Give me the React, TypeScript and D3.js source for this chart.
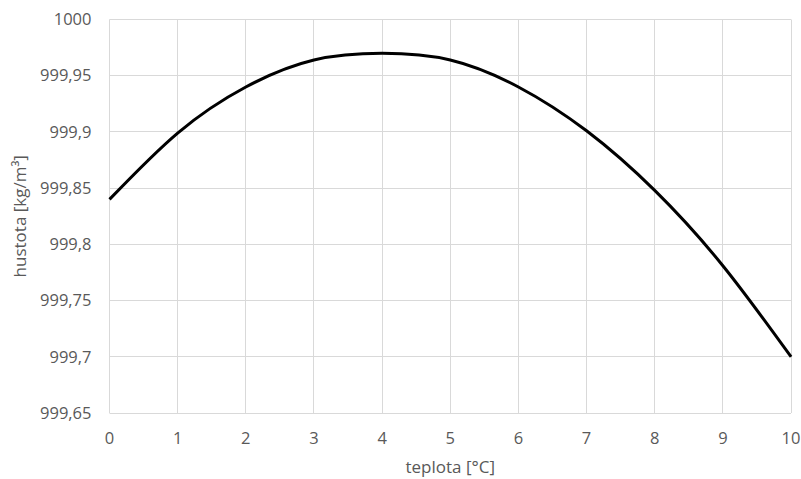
import * as d3 from 'd3';
import { useEffect, useRef } from 'react';

// teplota [°C] a hustota vody [kg/m³]
const temperatures = [0, 1, 2, 3, 4, 5, 6, 7, 8, 9, 10];
const densities = [999.84, 999.899, 999.94, 999.964, 999.97, 999.964, 999.94, 999.901, 999.848, 999.781, 999.7];
const xTicks = [0, 1, 2, 3, 4, 5, 6, 7, 8, 9, 10];
const yTicks = [999.65, 999.7, 999.75, 999.8, 999.85, 999.9, 999.95, 1000];

const W = 801;
const H = 479;
const FONT = "'Open Sans', 'Liberation Sans', sans-serif";

export default function App() {
    const svgRef = useRef<SVGSVGElement | null>(null);

    useEffect(() => {
        if (!svgRef.current) return;
        const svg = d3.select(svgRef.current);
        svg.selectAll('*').remove();

        const margin = { top: 19.5, right: 10, bottom: 66, left: 109.5 };
        const innerW = 791 - margin.left;
        const innerH = 413 - margin.top;

        const x = d3.scaleLinear().domain([0, 10]).range([0, innerW]);
        const y = d3.scaleLinear().domain([999.65, 1000]).range([innerH, 0]);
        const fmt = (v: number) => String(v).replace('.', ',');

        const g = svg.append('g').attr('transform', `translate(${margin.left},${margin.top})`);

        // mřížka
        g.append('g')
            .selectAll('line')
            .data(yTicks)
            .join('line')
            .attr('x1', 0)
            .attr('x2', innerW)
            .attr('y1', (d) => Math.round(y(d)))
            .attr('y2', (d) => Math.round(y(d)))
            .attr('stroke', '#d9d9d9')
            .attr('stroke-width', 1);

        g.append('g')
            .selectAll('line')
            .data(xTicks)
            .join('line')
            .attr('x1', (d) => Math.round(x(d)))
            .attr('x2', (d) => Math.round(x(d)))
            .attr('y1', 0)
            .attr('y2', innerH)
            .attr('stroke', '#d9d9d9')
            .attr('stroke-width', 1);

        // popisky os
        g.append('g')
            .selectAll('text')
            .data(yTicks)
            .join('text')
            .attr('x', -18)
            .attr('y', (d) => y(d))
            .attr('dy', '0.35em')
            .attr('text-anchor', 'end')
            .attr('font-family', FONT)
            .attr('font-size', 16.5)
            .attr('fill', '#595959')
            .text((d) => fmt(d));

        g.append('g')
            .selectAll('text')
            .data(xTicks)
            .join('text')
            .attr('x', (d) => x(d))
            .attr('y', innerH + 25)
            .attr('dy', '0.35em')
            .attr('text-anchor', 'middle')
            .attr('font-family', FONT)
            .attr('font-size', 16.5)
            .attr('fill', '#595959')
            .text((d) => fmt(d));

        const line = d3
            .line<number>()
            .x((_, i) => x(temperatures[i]))
            .y((d) => y(d))
            .curve(d3.curveNatural);

        g.append('path')
            .datum(densities)
            .attr('fill', 'none')
            .attr('stroke', '#000')
            .attr('stroke-width', 3)
            .attr('stroke-linejoin', 'round')
            .attr('d', line);

        svg.append('text')
            .attr('x', margin.left + innerW / 2)
            .attr('y', 467)
            .attr('dy', '0.35em')
            .attr('text-anchor', 'middle')
            .attr('font-family', FONT)
            .attr('font-size', 17)
            .attr('fill', '#595959')
            .text('teplota [°C]');

        svg.append('text')
            .attr('transform', `translate(20,${margin.top + innerH / 2}) rotate(-90)`)
            .attr('dy', '0.35em')
            .attr('text-anchor', 'middle')
            .attr('font-family', FONT)
            .attr('font-size', 17)
            .attr('fill', '#595959')
            .text('hustota [kg/m³]');
    }, []);

    return (
        <svg
            ref={svgRef}
            width={W}
            height={H}
            style={{ display: 'block', position: 'absolute', left: 0, top: 0, background: '#fff' }}
        />
    );
}
